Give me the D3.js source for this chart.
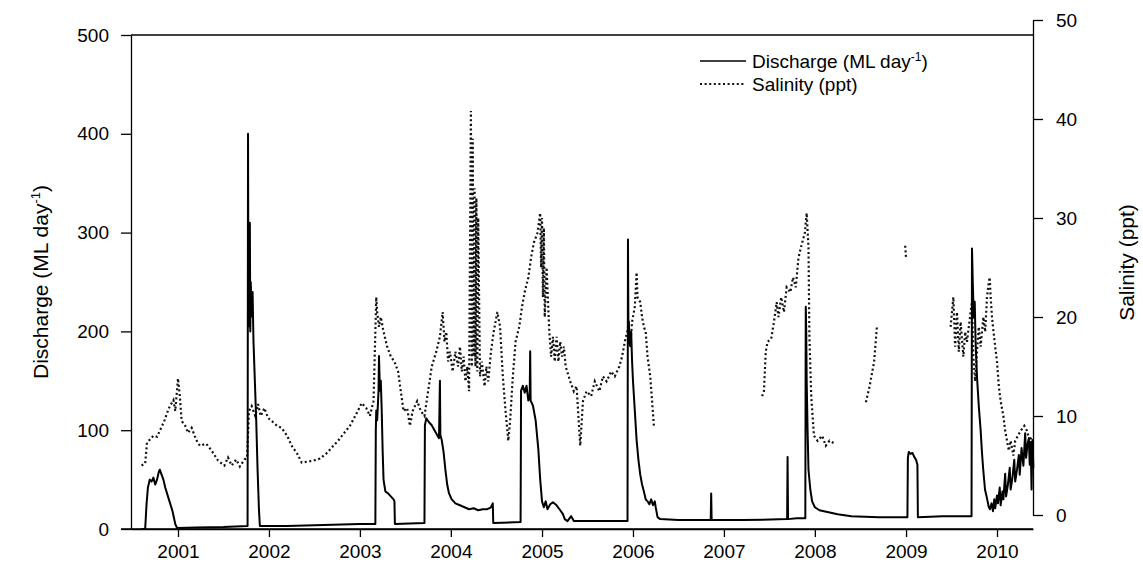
<!DOCTYPE html>
<html>
<head>
<meta charset="utf-8">
<script src="https://cdn.jsdelivr.net/npm/d3@7"></script>
<style>
  body { margin: 0; background: #fff; }
  svg { display: block; font-family: "Liberation Sans", Arial, sans-serif; }
</style>
</head>
<body>
<svg id="chart" width="1143" height="567"></svg>
<script>
// ---------------- data: [decimal year, value] ----------------
const dischargeSeries = [
  [2000.60,0],[2000.64,0],[2000.655,25],[2000.67,42],[2000.69,50],[2000.71,48],[2000.73,52],[2000.75,45],
  [2000.77,50],[2000.79,58],[2000.80,60],[2000.82,55],[2000.84,50],[2000.86,42],[2000.90,30],[2000.94,18],
  [2000.97,5],[2000.99,1],[2001.20,1.5],[2001.50,2],[2001.765,3],
  [2001.77,400],[2001.775,205],[2001.78,230],[2001.79,310],[2001.795,200],[2001.80,250],[2001.81,215],
  [2001.82,240],[2001.83,190],[2001.845,150],[2001.86,110],[2001.875,60],[2001.89,20],[2001.90,3],
  [2002.20,3],[2002.60,4],[2003.00,5],[2003.17,5],
  [2003.175,100],[2003.18,120],[2003.19,110],[2003.20,130],[2003.205,140],[2003.21,175],[2003.22,140],
  [2003.23,150],[2003.24,120],[2003.25,80],[2003.26,50],[2003.28,38],[2003.31,36],[2003.34,33],[2003.37,30],
  [2003.38,28],[2003.385,5],[2003.71,6],
  [2003.715,105],[2003.73,112],[2003.76,108],[2003.79,105],[2003.82,100],[2003.85,95],[2003.87,92],
  [2003.88,150],[2003.885,95],[2003.90,90],[2003.92,78],[2003.94,60],[2003.96,45],[2003.98,36],[2004.01,30],
  [2004.05,26],[2004.10,24],[2004.15,22],[2004.20,20],[2004.25,21],[2004.30,19],[2004.35,20],[2004.40,20],
  [2004.44,22],[2004.46,26],[2004.465,6],
  [2004.765,7],[2004.77,140],[2004.79,145],[2004.81,138],[2004.83,145],[2004.85,130],[2004.865,135],
  [2004.87,180],[2004.875,130],[2004.90,125],[2004.93,110],[2004.96,80],[2004.98,50],[2005.00,28],
  [2005.02,22],[2005.04,28],[2005.06,20],[2005.09,25],[2005.12,27],[2005.16,24],[2005.20,19],[2005.23,15],
  [2005.25,10],[2005.28,8],[2005.32,13],[2005.35,8],[2005.60,8],[2005.94,8],
  [2005.945,293],[2005.95,200],[2005.955,210],[2005.96,190],[2005.97,185],[2005.98,200],[2005.99,170],
  [2006.00,150],[2006.02,120],[2006.04,90],[2006.06,70],[2006.08,55],[2006.10,45],[2006.12,38],[2006.14,30],
  [2006.16,28],[2006.18,25],[2006.20,30],[2006.22,24],[2006.24,28],[2006.25,22],[2006.27,12],[2006.30,10],
  [2006.50,9],[2006.855,9],[2006.86,36],[2006.865,9],[2007.20,9],[2007.695,10],[2007.70,73],[2007.705,10],
  [2007.80,11],[2007.895,11],
  [2007.90,225],[2007.905,200],[2007.91,150],[2007.92,100],[2007.93,60],[2007.95,40],[2007.97,28],
  [2008.00,22],[2008.05,19],[2008.15,17],[2008.25,15],[2008.40,13],[2008.70,12],[2009.015,12],
  [2009.02,72],[2009.03,78],[2009.05,76],[2009.07,77],[2009.09,73],[2009.11,70],[2009.125,65],[2009.13,12],
  [2009.40,13],[2009.72,13],
  [2009.725,284],[2009.735,245],[2009.745,214],[2009.755,230],[2009.765,188],[2009.78,154],[2009.80,124],
  [2009.82,100],[2009.835,77],[2009.846,63],[2009.868,40],[2009.89,31],[2009.91,22],[2009.923,20],
  [2009.94,26],[2009.956,18],[2009.97,30],[2009.98,21],[2010.00,34],[2010.01,26],[2010.03,42],
  [2010.04,24],[2010.06,38],[2010.07,30],[2010.09,56],[2010.10,33],[2010.12,45],[2010.14,62],[2010.15,40],
  [2010.17,52],[2010.19,70],[2010.20,48],[2010.22,60],[2010.24,75],[2010.25,55],[2010.27,82],[2010.29,64],
  [2010.31,97],[2010.32,72],[2010.335,85],[2010.35,92],[2010.36,65],[2010.37,88],[2010.38,40],[2010.39,90],
  [2010.40,62]
];

// salinity (ppt); null marks a gap in the record
const salinitySeries = [
  [2000.60,5.0],[2000.64,5.2],[2000.66,7.3],[2000.69,7.6],[2000.73,8.0],[2000.77,7.9],[2000.80,8.5],
  [2000.85,9.5],[2000.88,10.3],[2000.91,11.0],[2000.95,11.6],[2000.97,10.5],[2001.00,13.8],[2001.02,12.0],
  [2001.04,9.5],[2001.08,9.0],[2001.11,8.3],[2001.15,8.8],[2001.20,7.6],[2001.24,7.0],[2001.31,7.2],
  [2001.37,6.5],[2001.44,5.5],[2001.51,5.0],[2001.55,5.8],[2001.59,5.0],[2001.64,5.6],[2001.68,4.9],
  [2001.73,5.6],[2001.76,5.8],[2001.78,10.5],[2001.81,11.0],[2001.85,10.0],[2001.88,11.2],[2001.91,10.0],
  [2001.95,10.8],[2001.99,9.8],[2002.03,9.5],[2002.09,9.0],[2002.14,8.8],[2002.20,8.0],[2002.25,7.0],
  [2002.31,6.2],[2002.36,5.3],[2002.43,5.4],[2002.49,5.5],[2002.56,5.7],[2002.63,6.2],[2002.69,6.8],
  [2002.76,7.5],[2002.82,8.2],[2002.89,9.0],[2002.96,10.2],[2003.02,11.3],[2003.07,10.8],[2003.11,10.0],
  [2003.15,11.5],[2003.18,22.0],[2003.19,20.5],[2003.21,19.0],[2003.23,20.0],[2003.26,18.5],[2003.30,17.0],
  [2003.34,16.0],[2003.38,15.5],[2003.42,14.5],[2003.45,12.5],[2003.48,10.5],[2003.52,10.8],[2003.55,9.0],
  [2003.58,10.5],[2003.63,11.5],[2003.67,10.5],[2003.71,10.0],[2003.75,12.5],[2003.79,15.0],[2003.84,16.5],
  [2003.88,18.0],[2003.91,20.5],[2003.93,17.5],[2003.95,18.5],[2003.97,15.5],[2003.99,16.5],[2004.02,14.5],
  [2004.05,16.5],[2004.08,15.0],[2004.10,17.0],[2004.12,14.5],[2004.14,16.0],[2004.16,13.5],[2004.18,15.0],
  [2004.20,12.5],[2004.22,40.8],[2004.23,15.0],[2004.24,38.0],[2004.25,16.0],[2004.26,33.0],[2004.27,15.0],
  [2004.28,32.0],[2004.29,14.5],[2004.30,30.0],[2004.32,14.0],[2004.34,15.5],[2004.37,13.0],[2004.39,15.0],
  [2004.41,13.5],[2004.44,16.5],[2004.47,18.5],[2004.51,20.5],[2004.54,19.0],[2004.57,14.0],[2004.60,10.5],
  [2004.63,7.5],[2004.65,9.5],[2004.68,14.0],[2004.71,17.5],[2004.75,19.0],[2004.78,21.0],[2004.81,22.5],
  [2004.85,24.0],[2004.88,26.0],[2004.91,27.5],[2004.95,28.5],[2004.98,30.5],[2004.99,25.0],[2005.00,30.0],
  [2005.01,22.0],[2005.02,29.0],[2005.03,20.0],[2005.05,25.0],[2005.08,18.5],[2005.10,16.0],[2005.12,18.0],
  [2005.14,15.5],[2005.16,18.0],[2005.18,15.5],[2005.20,17.5],[2005.22,16.0],[2005.24,17.0],[2005.26,15.0],
  [2005.31,13.5],[2005.35,12.5],[2005.38,13.0],[2005.42,7.0],[2005.45,11.5],[2005.49,12.5],[2005.54,12.0],
  [2005.58,13.5],[2005.63,12.5],[2005.67,14.0],[2005.71,13.5],[2005.76,14.5],[2005.80,14.0],[2005.85,15.0],
  [2005.88,16.0],[2005.91,17.5],[2005.95,19.0],[2005.97,17.0],[2005.99,19.5],[2006.02,21.0],[2006.04,24.5],
  [2006.05,22.0],[2006.08,21.5],[2006.10,20.0],[2006.12,19.0],[2006.14,18.5],[2006.16,16.0],[2006.19,14.0],
  [2006.21,11.5],[2006.23,9.0],
  [2006.50,null],
  [2007.42,12.0],[2007.44,12.5],[2007.46,16.5],[2007.48,17.5],[2007.52,17.8],[2007.55,19.5],[2007.58,21.5],
  [2007.60,20.0],[2007.63,22.0],[2007.66,20.5],[2007.69,23.0],[2007.73,22.5],[2007.76,24.0],[2007.79,23.0],
  [2007.82,26.0],[2007.86,27.5],[2007.89,28.5],[2007.91,30.5],[2007.93,27.0],[2007.94,18.0],[2007.96,12.0],
  [2007.99,8.0],[2008.03,7.5],[2008.08,8.0],[2008.12,7.0],[2008.16,7.5],[2008.22,7.2],
  [2008.40,null],
  [2008.56,11.4],[2008.60,13.0],[2008.65,15.5],[2008.68,19.0],
  [2008.80,null],
  [2008.99,27.2],[2009.00,26.0],
  [2009.30,null],
  [2009.49,19.0],[2009.52,22.0],[2009.54,17.0],[2009.56,20.5],[2009.58,16.5],[2009.60,19.5],[2009.63,16.0],
  [2009.65,18.5],[2009.67,17.5],[2009.69,19.0],[2009.71,20.5],[2009.725,21.5],[2009.74,16.0],[2009.76,13.5],
  [2009.78,16.5],[2009.80,19.0],[2009.82,17.0],[2009.85,20.0],[2009.87,18.5],[2009.89,22.0],[2009.91,23.5],
  [2009.92,24.0],[2009.93,22.0],[2009.945,20.0],[2009.956,19.0],[2009.98,17.0],[2010.00,15.5],[2010.02,13.0],
  [2010.04,11.5],[2010.07,10.0],[2010.09,8.5],[2010.11,7.5],[2010.13,6.5],[2010.15,7.5],[2010.18,6.0],
  [2010.20,7.5],[2010.23,8.0],[2010.26,8.5],[2010.30,9.0],[2010.33,8.5],[2010.36,7.5],[2010.385,8.0]
];

const dischargeTicks = [0, 100, 200, 300, 400, 500];
const salinityTicks = [0, 10, 20, 30, 40, 50];
const yearTicks = [2001, 2002, 2003, 2004, 2005, 2006, 2007, 2008, 2009, 2010];
const legendLabels = ["Discharge (ML day", "Salinity (ppt)"];

(function () {
  function toDate(t) {
    const y = Math.floor(t);
    const start = Date.UTC(y, 0, 1), end = Date.UTC(y + 1, 0, 1);
    return new Date(start + (t - y) * (end - start));
  }
  const discharge = dischargeSeries.map(d => ({ date: toDate(d[0]), v: d[1] }));
  const salinity = salinitySeries.map(d => ({ date: toDate(d[0]), v: d[1] }));

  const svg = d3.select("#chart");
  const pL = 131, pR = 1033, pT = 35, pB = 529;
  const rT = 20, rB = 515;

  const xBase = d3.scaleUtc().domain([toDate(2001), toDate(2010)]).range([178, 997]);
  const x = d3.scaleUtc().domain([xBase.invert(pL), xBase.invert(pR)]).range([pL, pR]);
  const yL = d3.scaleLinear().domain([0, 500]).range([pB, pT]);
  const yR = d3.scaleLinear().domain([0, 50]).range([rB, rT]);

  const fontTick = 19;

  svg.append("line").attr("x1", pL).attr("x2", pR).attr("y1", pT).attr("y2", pT)
    .attr("stroke", "#000").attr("stroke-width", 1.3);

  const gL = svg.append("g").attr("transform", `translate(${pL},0)`)
    .call(d3.axisLeft(yL).tickValues(dischargeTicks).tickSize(10).tickSizeOuter(0).tickPadding(12));
  const gR = svg.append("g").attr("transform", `translate(${pR},0)`)
    .call(d3.axisRight(yR).tickValues(salinityTicks).tickSize(10).tickSizeOuter(0).tickPadding(13));
  const gB = svg.append("g").attr("transform", `translate(0,${pB})`)
    .call(d3.axisBottom(x).tickValues(yearTicks.map(toDate)).tickFormat(d3.utcFormat("%Y"))
      .tickSize(8).tickSizeOuter(0).tickPadding(8));
  svg.append("line").attr("x1", pL - 10).attr("x2", pR).attr("y1", pB).attr("y2", pB)
    .attr("stroke", "#000").attr("stroke-width", 1.3);

  [gL, gR, gB].forEach(g => {
    g.selectAll("path.domain").attr("stroke", "#000").attr("stroke-width", 1.3);
    g.selectAll(".tick line").attr("stroke", "#000").attr("stroke-width", 1.3);
    g.selectAll(".tick text").attr("font-size", fontTick).attr("fill", "#000")
      .attr("font-family", "Liberation Sans, Arial, sans-serif");
  });

  const tL = svg.append("text").attr("transform", `translate(48,${(pT + pB) / 2}) rotate(-90)`)
    .attr("text-anchor", "middle").attr("font-size", 21).attr("fill", "#000");
  tL.append("tspan").text("Discharge (ML day");
  tL.append("tspan").attr("dy", -8).attr("font-size", 13).text("-1");
  tL.append("tspan").attr("dy", 8).text(")");

  svg.append("text").attr("transform", `translate(1134,${(rT + rB) / 2 - 5}) rotate(-90)`)
    .attr("text-anchor", "middle").attr("font-size", 21).attr("fill", "#000")
    .text("Salinity (ppt)");

  const plot = svg.append("g");
  const lineD = d3.line().x(d => x(d.date)).y(d => yL(d.v));
  const lineS = d3.line().defined(d => d.v !== null).x(d => x(d.date)).y(d => yR(d.v));

  plot.append("path").datum(salinity).attr("d", lineS)
    .attr("fill", "none").attr("stroke", "#111").attr("stroke-width", 2.2)
    .attr("stroke-dasharray", "2,2.6");
  plot.append("path").datum(discharge).attr("d", lineD)
    .attr("fill", "none").attr("stroke", "#000").attr("stroke-width", 2)
    .attr("stroke-linejoin", "round");

  const lg = svg.append("g");
  const legY = [61, 84];
  lg.append("line").attr("x1", 700).attr("x2", 746).attr("y1", legY[0]).attr("y2", legY[0])
    .attr("stroke", "#000").attr("stroke-width", 1.5);
  lg.append("line").attr("x1", 700).attr("x2", 746).attr("y1", legY[1]).attr("y2", legY[1])
    .attr("stroke", "#111").attr("stroke-width", 2).attr("stroke-dasharray", "2,2.6");
  const lt1 = lg.append("text").attr("x", 752).attr("y", legY[0]).attr("dy", "0.35em")
    .attr("font-size", fontTick).attr("fill", "#000");
  lt1.append("tspan").text(legendLabels[0]);
  lt1.append("tspan").attr("dy", -7).attr("font-size", 12).text("-1");
  lt1.append("tspan").attr("dy", 7).text(")");
  lg.append("text").attr("x", 752).attr("y", legY[1]).attr("dy", "0.35em")
    .attr("font-size", fontTick).attr("fill", "#000").text(legendLabels[1]);
})();
</script>
</body>
</html>
